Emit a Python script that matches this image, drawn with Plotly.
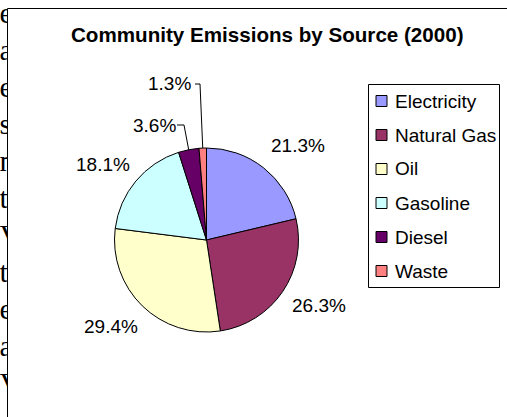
import math
import plotly.graph_objects as go

# Emission shares by source, year 2000 (percent of community total)
sources = ["Electricity", "Natural Gas", "Oil", "Gasoline", "Diesel", "Waste"]
shares = [21.3, 26.3, 29.4, 18.1, 3.6, 1.3]
colors = ["#9999FF", "#993366", "#FFFFCC", "#CCFFFF", "#660066", "#FF8080"]

title_text = "Community Emissions by Source (2000)"

# Fragment of page text peeking out from behind the chart frame
margin_letters = ["e", "a", "e", "s", "n", "t", "V", "t", "e", "a", "V"]

W, H = 507, 417
FONT = "Liberation Sans, Arial, sans-serif"


def fx(x):
    return x / W


def fy(y):
    return 1 - y / H


# pie geometry (pixels)
cx, cy, r = 206.5, 240.0, 92.0

fig = go.Figure()

fig.add_trace(go.Pie(
    labels=sources,
    values=shares,
    sort=False,
    direction="clockwise",
    rotation=0,
    marker=dict(colors=colors, line=dict(color="black", width=1)),
    textinfo="none",
    hoverinfo="label+percent",
    showlegend=False,
    domain=dict(x=[fx(cx - r), fx(cx + r)], y=[fy(cy + r), fy(cy - r)]),
))

# clipped text column at the far left
fig.add_trace(go.Scatter(
    x=[-0.5] * len(margin_letters),
    y=[15 + 37 * i for i in range(len(margin_letters))],
    mode="text",
    text=margin_letters,
    textposition="middle right",
    textfont=dict(family="Liberation Serif, Times New Roman, serif", size=30, color="black"),
    cliponaxis=True,
    hoverinfo="skip",
    showlegend=False,
))

annotations = []
shapes = []

# chart title
annotations.append(dict(
    x=fx(267.5), y=fy(34), xref="paper", yref="paper",
    text="<b>" + title_text + "</b>", showarrow=False,
    xanchor="center", yanchor="middle",
    font=dict(family=FONT, size=20.6, color="black"),
))

# percentage labels, placed outside their slices
label_pos = [(297.5, 145), (319, 305), (110.5, 326), (102.5, 164), (154, 125), (169.5, 84)]
for v, (lx, ly) in zip(shares, label_pos):
    annotations.append(dict(
        x=fx(lx), y=fy(ly), xref="paper", yref="paper",
        text=f"{v:.1f}%", showarrow=False,
        xanchor="center", yanchor="middle",
        font=dict(family=FONT, size=19, color="black"),
    ))

# leader lines for the two thin slices: from label to slice mid-point on the rim
cum = []
acc = 0.0
total = sum(shares)
for v in shares:
    cum.append((acc + v / 2) / total)
    acc += v


def rim(frac):
    a = 2 * math.pi * frac
    return cx + r * math.sin(a), cy - r * math.cos(a)


leaders = {4: [(177, 125), (184, 125)], 5: [(195, 84), (200, 84)]}
for idx, pts in leaders.items():
    ex, ey = rim(cum[idx])
    pts = pts + [(ex, ey)]
    path = "M " + " L ".join(f"{fx(x):.5f},{fy(y):.5f}" for x, y in pts)
    shapes.append(dict(type="path", xref="paper", yref="paper", path=path,
                       line=dict(color="black", width=1)))

# legend: framed box with coloured squares
shapes.append(dict(type="rect", xref="paper", yref="paper",
                   x0=fx(368.5), x1=fx(499.5), y0=fy(287.5), y1=fy(84.5),
                   line=dict(color="black", width=1), fillcolor="white", layer="below"))
for i, (name, col) in enumerate(zip(sources, colors)):
    yc = 101 + 34 * i
    shapes.append(dict(type="rect", xref="paper", yref="paper",
                       x0=fx(376), x1=fx(387), y0=fy(yc + 5.5), y1=fy(yc - 5.5),
                       line=dict(color="black", width=1), fillcolor=col))
    annotations.append(dict(
        x=fx(393), y=fy(yc), xref="paper", yref="paper",
        text=name, showarrow=False, xanchor="left", yanchor="middle",
        font=dict(family=FONT, size=19, color="black"),
    ))

# chart frame (left and top edges fall inside the page)
shapes.append(dict(type="rect", xref="paper", yref="paper",
                   x0=fx(7.5), x1=1.2, y0=-0.2, y1=fy(8.5),
                   line=dict(color="black", width=1)))

fig.update_layout(
    width=W, height=H,
    margin=dict(l=0, r=0, t=0, b=0),
    paper_bgcolor="white",
    plot_bgcolor="rgba(0,0,0,0)",
    xaxis=dict(domain=[0, fx(7)], range=[0, 7], visible=False, fixedrange=True),
    yaxis=dict(domain=[0, 1], range=[H, 0], visible=False, fixedrange=True),
    annotations=annotations,
    shapes=shapes,
    showlegend=False,
)

fig.write_html("out.html")
